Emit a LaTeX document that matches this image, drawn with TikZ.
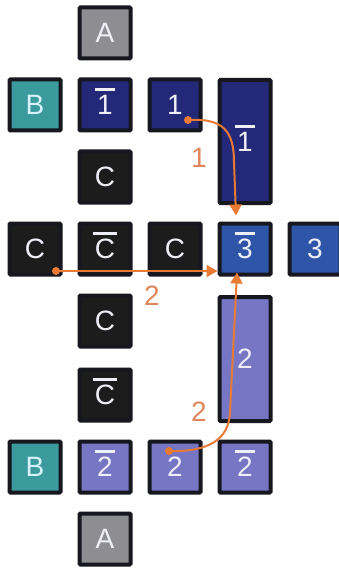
\documentclass[tikz,border=0pt]{standalone}
\usepackage{fontspec}
\setmainfont{Liberation Sans}
\usetikzlibrary{calc,arrows.meta}
\definecolor{bordc}{HTML}{17171F}
\definecolor{grayf}{HTML}{8E8E92}
\definecolor{tealf}{HTML}{3A9A9C}
\definecolor{navyf}{HTML}{242878}
\definecolor{blackf}{HTML}{1C1C1C}
\definecolor{bluef}{HTML}{2F55A8}
\definecolor{lavf}{HTML}{7676C4}
\definecolor{arrc}{HTML}{E87A34}
\definecolor{labc}{HTML}{E0865C}
\definecolor{txtc}{HTML}{EEEEF6}
\newlength\obw
\newcommand\ob[1]{\setbox0\hbox{#1}\obw=\wd0\advance\obw by 4pt\rlap{\kern-2pt\smash{\raisebox{23.5pt}{\rule{\obw}{2.8pt}}}}\box0}
\tikzset{
  cell/.style={draw=bordc, line width=4pt, rounded corners=1pt, minimum width=51pt, minimum height=51pt,
    inner sep=0pt, text=txtc, font=\fontsize{28}{28}\selectfont},
  grayc/.style={cell, fill=grayf},
  tealc/.style={cell, fill=tealf, text=cyan!15},
  navyc/.style={cell, fill=navyf},
  blackc/.style={cell, fill=blackf},
  bluec/.style={cell, fill=bluef},
  lavc/.style={cell, fill=lavf},
  dotn/.style={circle, fill=arrc, inner sep=0pt, minimum size=8pt},
  arr/.style={draw=arrc, line width=2pt, -{Triangle[width=12pt,length=11pt]}, arrc},
  numlab/.style={text=labc, font=\fontsize{28}{28}\selectfont, inner sep=0pt}
}
\begin{document}
\begin{tikzpicture}[x=1pt,y=-1pt]
\useasboundingbox[fill=white] (0,0) rectangle (339,569);
% row A top
\node[grayc] (a1) at (105,33) {A};
% row 1
\node[tealc] (b1) at (35,105) {B};
\node[navyc] (n1bar) at (105,105) {\ob{1}};
\node[navyc] (n1) at (175,105) {1};
\node[navyc, minimum height=123pt] (t1) at (245,141.5) {\ob{1}};
% row C
\node[blackc] (c1) at (105,177) {C};
% row 3
\node[blackc] (cL) at (35,249) {C};
\node[blackc] (cbar) at (105,249) {\ob{C}};
\node[blackc] (cR) at (175,249) {C};
\node[bluec] (t3bar) at (245,249) {\ob{3}};
\node[bluec] (t3) at (315,249) {3};
% lower rows
\node[blackc] (c2) at (105,321) {C};
\node[lavc, minimum height=124pt] (t2) at (245,359) {2};
\node[blackc] (cbar2) at (105,395) {\ob{C}};
\node[tealc] (b2) at (35,467) {B};
\node[lavc] (n2bar) at (105,467) {\ob{2}};
\node[lavc] (n2) at (175,467) {2};
\node[lavc] (n2bar2) at (245,467) {\ob{2}};
\node[grayc] (a2) at (105,539) {A};
% arrows
\node[dotn] (d1) at ($(n1)+(13,15)$) {};
\coordinate (e1) at ($(t3bar.north)+(-9,-6)$);
\draw[arr] (d1.center) .. controls (222,118) and (234,130) .. (234,162) -- (e1);
\node[numlab] (l1) at (199,158) {1};
\node[dotn] (d2) at ($(cL)+(21,22)$) {};
\draw[arr] (d2.center) -- (d2 -| t3bar.west);
\node[numlab] (l2) at (152,296) {2};
\node[dotn] (d3) at ($(n2)+(-6,-16)$) {};
\coordinate (e3) at ($(t3bar.south)+(-8,-4)$);
\draw[arr] (d3.center) .. controls (208,452) and (229,440) .. (230,412) -- (e3);
\node[numlab] (l3) at (199,412) {2};
\end{tikzpicture}
\end{document}
